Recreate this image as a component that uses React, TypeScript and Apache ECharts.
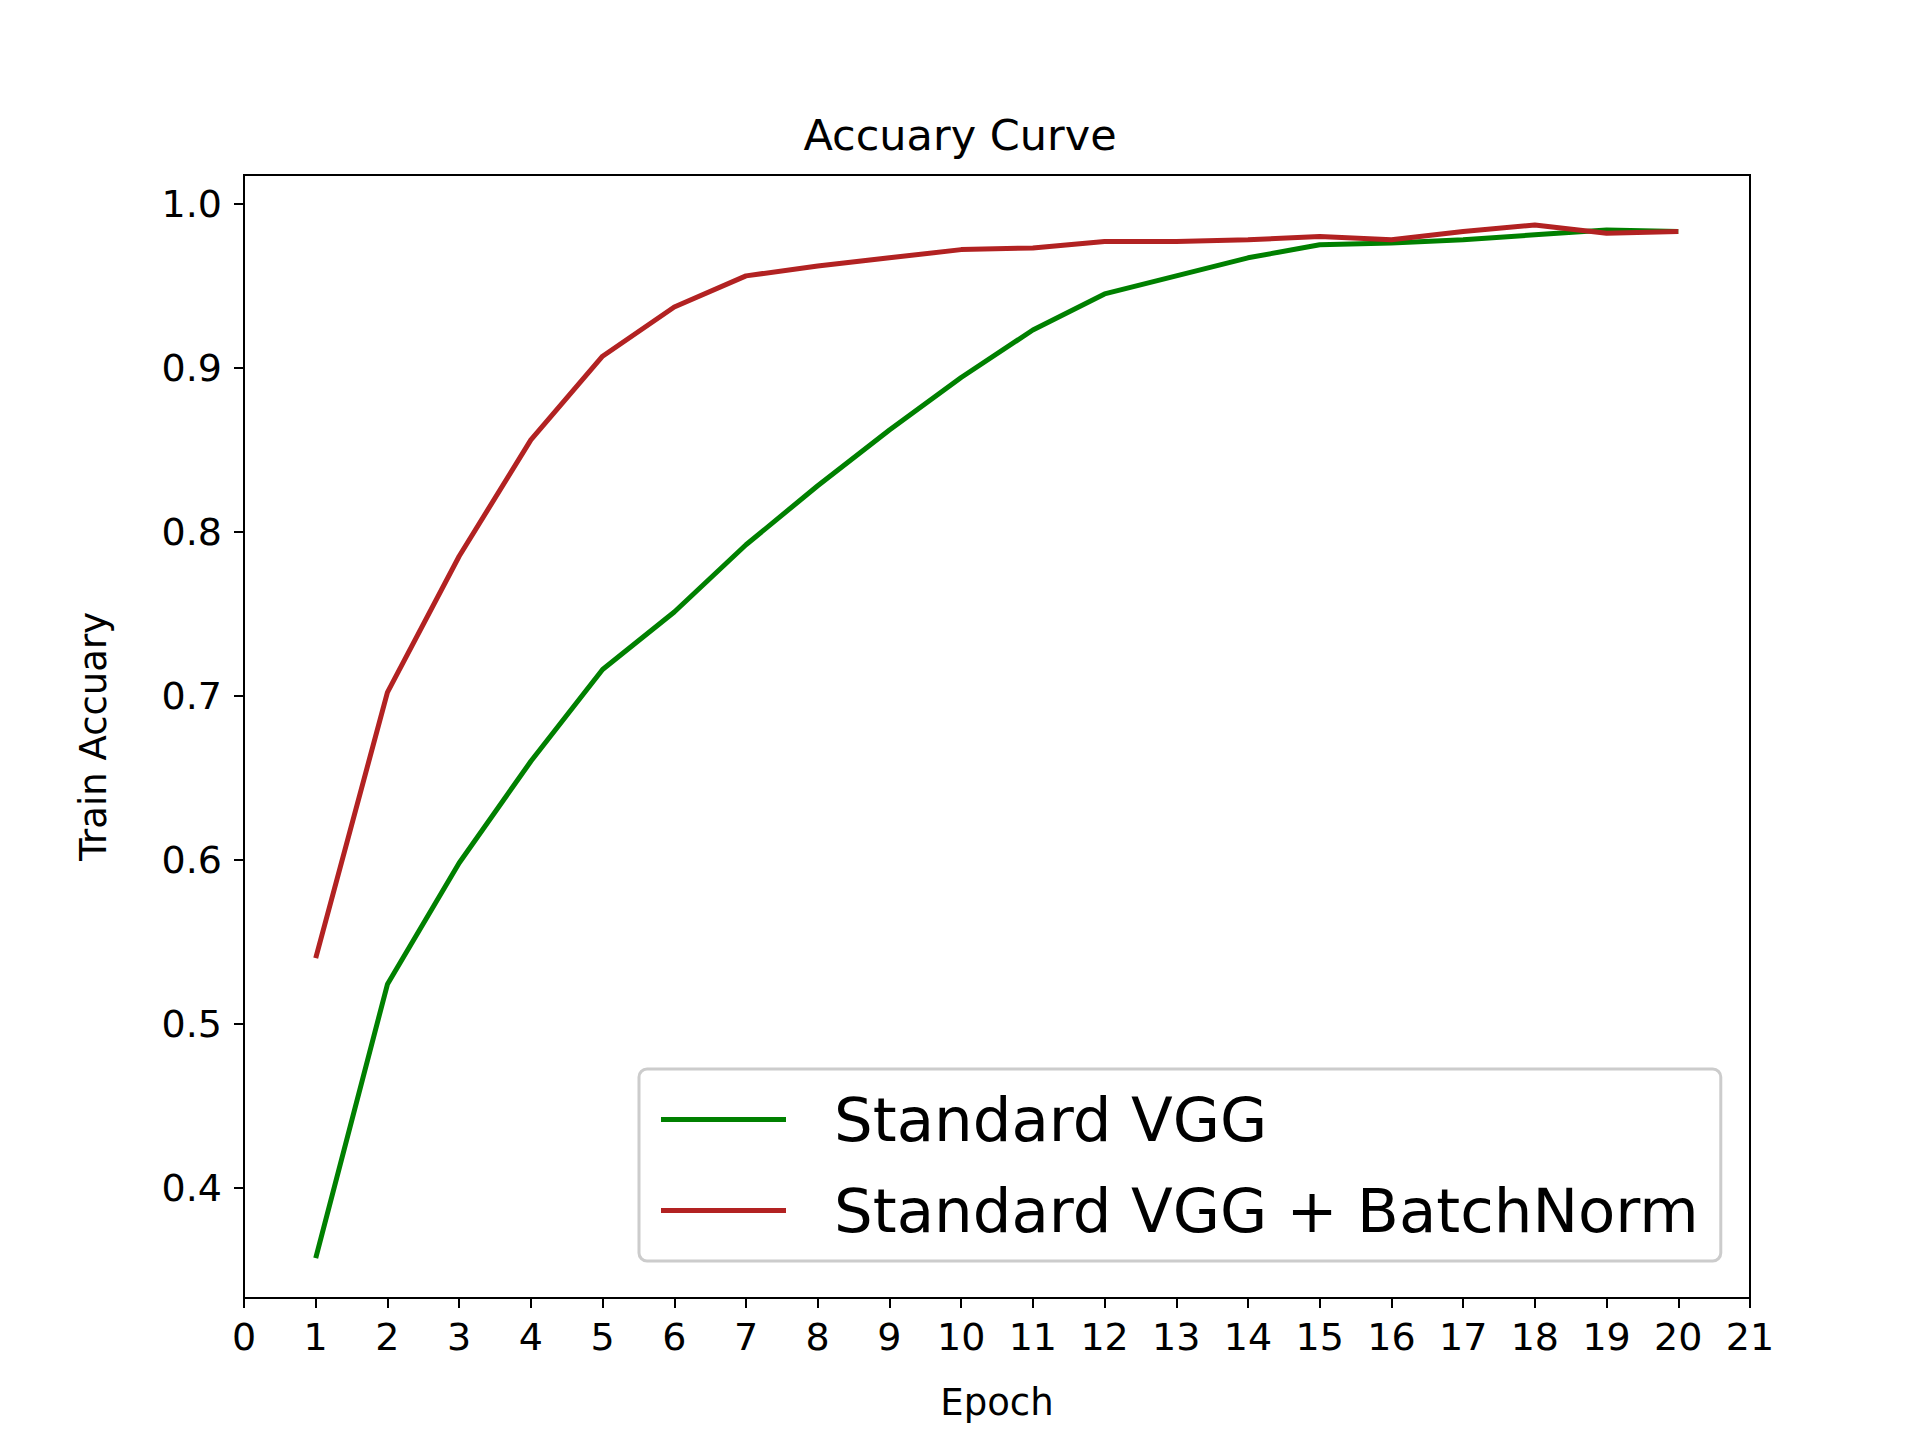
import React, { useEffect, useRef } from 'react';
import * as echarts from 'echarts';

const epochs = [1, 2, 3, 4, 5, 6, 7, 8, 9, 10, 11, 12, 13, 14, 15, 16, 17, 18, 19, 20];
const vggAcc = [0.357, 0.524, 0.598, 0.660, 0.716, 0.751, 0.792, 0.828, 0.862, 0.894, 0.923, 0.945, 0.956, 0.967, 0.975, 0.976, 0.978, 0.981, 0.984, 0.983];
const bnAcc = [0.540, 0.702, 0.785, 0.856, 0.907, 0.937, 0.956, 0.962, 0.967, 0.972, 0.973, 0.977, 0.977, 0.978, 0.980, 0.978, 0.983, 0.987, 0.982, 0.983];
const yTicks = [0.4, 0.5, 0.6, 0.7, 0.8, 0.9, 1.0];
const seriesNames = ['Standard VGG', 'Standard VGG + BatchNorm'];

const FONT = 'DejaVu Sans';

const App: React.FC = () => {
  const chartRef = useRef<HTMLDivElement>(null);

  useEffect(() => {
    if (!chartRef.current) return undefined;
    const chart = echarts.init(chartRef.current, undefined, { renderer: 'svg' });

    const options: any = {
      animation: false,
      backgroundColor: '#fff',
      textStyle: { fontFamily: FONT },
      title: {
        text: 'Accuary Curve',
        left: 'center',
        top: 108,
        textStyle: { fontFamily: FONT, fontSize: 43, fontWeight: 'normal', color: '#000' },
      },
      grid: { left: 244, right: 170, top: 175, bottom: 142, show: true, borderColor: '#000', borderWidth: 2 },
      legend: {
        orient: 'vertical',
        left: 639,
        top: 1069,
        padding: [20, 22, 20, 22],
        itemGap: 30,
        itemWidth: 125,
        itemHeight: 5,
        icon: 'rect',
        borderColor: '#ccc',
        borderWidth: 3,
        borderRadius: 8,
        textStyle: { fontFamily: FONT, fontSize: 61, color: '#000', padding: [0, 0, 0, 43] },
        data: seriesNames,
      },
      xAxis: {
        type: 'value',
        min: 0,
        max: 21,
        interval: 1,
        name: 'Epoch',
        nameLocation: 'middle',
        nameGap: 86,
        nameTextStyle: { fontFamily: FONT, fontSize: 37, color: '#000' },
        axisLine: { lineStyle: { color: '#000', width: 2 } },
        axisTick: { inside: false, length: 10, lineStyle: { color: '#000', width: 2 } },
        axisLabel: { fontFamily: FONT, fontSize: 38, color: '#000', margin: 20 },
        splitLine: { show: false },
      },
      yAxis: {
        type: 'value',
        min: 0.3327,
        max: 1.0175,
        name: 'Train Accuary',
        nameLocation: 'middle',
        nameGap: 132,
        nameTextStyle: { fontFamily: FONT, fontSize: 37, color: '#000' },
        axisLine: { lineStyle: { color: '#000', width: 2 } },
        axisTick: { inside: false, length: 10, customValues: yTicks, lineStyle: { color: '#000', width: 2 } },
        axisLabel: {
          fontFamily: FONT,
          fontSize: 38,
          color: '#000',
          margin: 22,
          customValues: yTicks,
          formatter: (v: number) => v.toFixed(1),
        },
        splitLine: { show: false },
      },
      series: [
        {
          name: seriesNames[0],
          type: 'line',
          data: epochs.map((e, i) => [e, vggAcc[i]]),
          showSymbol: false,
          color: '#008000',
          lineStyle: { width: 5, color: '#008000' },
        },
        {
          name: seriesNames[1],
          type: 'line',
          data: epochs.map((e, i) => [e, bnAcc[i]]),
          showSymbol: false,
          color: '#b22222',
          lineStyle: { width: 5, color: '#b22222' },
        },
      ],
    };

    chart.setOption(options);
    return () => chart.dispose();
  }, []);

  return <div ref={chartRef} style={{ position: 'absolute', left: 0, top: 0, width: 1920, height: 1440 }} />;
};

export default App;
